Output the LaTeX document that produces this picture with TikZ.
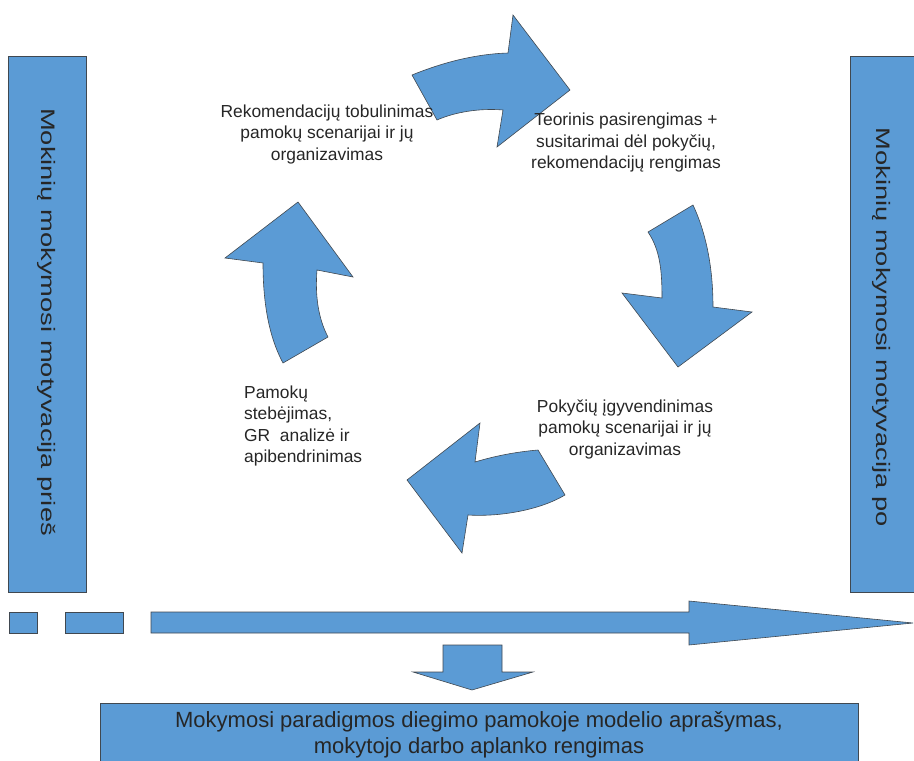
\documentclass[tikz,border=0pt]{standalone}
\usepackage{fontspec}
\setmainfont{Liberation Sans}
\definecolor{blu}{HTML}{5B9BD5}
\definecolor{edge}{HTML}{404850}
\definecolor{txt}{HTML}{262626}
\begin{document}
\begin{tikzpicture}[x=1pt,y=-1pt,
  shp/.style={fill=blu, draw=edge, line width=0.6pt, line join=miter},
  box/.style={shp, inner sep=0pt, outer sep=0pt},
  midtxt/.style={font=\fontsize{17.4}{21.5}\selectfont, text=txt, inner sep=0pt},
  bartxt/.style={font=\fontsize{19.5}{23}\selectfont, text=txt, inner sep=0pt},
  bottxt/.style={font=\fontsize{22}{26}\selectfont, text=txt, align=center, inner sep=0pt}]
\useasboundingbox (0,0) rectangle (914,761);
\clip (0,0) rectangle (914,761);

% side bars
\node[box, minimum width=78pt, minimum height=536pt] (lbar) at (47,324) {};
\node[box, minimum width=80pt, minimum height=536pt] (rbar) at (890,324) {};
\begin{scope}[shift={(47,322)}]
  \node[bartxt, rotate=-90, xscale=1.4] (ltxt) at (0,0) {Mokinių mokymosi motyvacija prieš};
\end{scope}
\begin{scope}[shift={(882,327)}]
  \node[bartxt, rotate=-90, xscale=1.4] (rtxt) at (0,0) {Mokinių mokymosi motyvacija po};
\end{scope}

% cycle arrows
% top
\path[shp] (412,75) .. controls (444,62) and (476,54) .. (508,53)
  -- (513,15) -- (570,90) -- (497,147) -- (503,110)
  .. controls (480,108) and (455,112) .. (437,120) -- cycle;
% right
\path[shp] (648,232) -- (693,205)
  .. controls (707,235) and (713,270) .. (713,307)
  -- (752,312) -- (678,367) -- (622,293) -- (662,298)
  .. controls (662,270) and (660,250) .. (648,232) -- cycle;
% bottom
\path[shp] (538,450) .. controls (515,452) and (495,456) .. (475,462)
  -- (480,423) -- (407,480) -- (462,553) -- (468,515)
  .. controls (500,517) and (540,510) .. (565,495) -- cycle;
% left
\path[shp] (298,202) -- (353,277) -- (317,270)
  .. controls (315,295) and (318,318) .. (328,337)
  -- (283,363)
  .. controls (268,335) and (263,300) .. (263,263)
  -- (225,258) -- cycle;

% cycle texts
\node[midtxt, align=center] (rek) at (327,134) {Rekomendacijų tobulinimas\\pamokų scenarijai ir jų\\organizavimas};
\node[midtxt, align=center] (teo) at (626,143) {Teorinis pasirengimas +\\susitarimai dėl pokyčių,\\rekomendacijų rengimas};
\node[midtxt, align=left, anchor=west] (pam) at (244,426) {Pamokų\\stebėjimas,\\GR\ \ analizė ir\\apibendrinimas};
\node[midtxt, align=center] (pok) at (625,429) {Pokyčių įgyvendinimas\\pamokų scenarijai ir jų\\organizavimas};

% time line
\path[shp] (9,612) rectangle (37,633);
\path[shp] (65,612) rectangle (123,633);
\path[shp] (151,612) -- (689,612) -- (689,601) -- (913,623) -- (689,645) -- (689,633) -- (151,633) -- cycle;

% down arrow
\path[shp] (443,645) -- (502,645) -- (502,672) -- (533,672) -- (472,690) -- (413,672) -- (443,672) -- cycle;

% bottom box
\node[box, minimum width=758pt, minimum height=80pt, anchor=north] (bbox) at (479,703) {};
\node[bottxt] (btxt) at (479,735) {Mokymosi paradigmos diegimo pamokoje modelio aprašymas,\\mokytojo darbo aplanko rengimas};
\end{tikzpicture}
\end{document}
